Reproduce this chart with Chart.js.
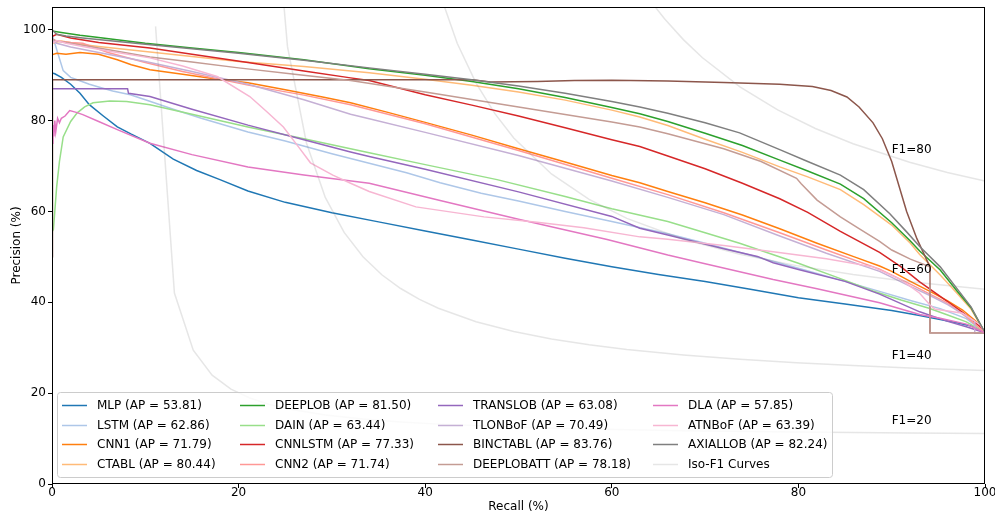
<!DOCTYPE html>
<html>
<head>
<meta charset="utf-8">
<title>Precision-Recall Curves</title>
<script src="https://cdn.jsdelivr.net/npm/chart.js@4.4.1/dist/chart.umd.min.js"></script>
<style>
    html, body { margin: 0; padding: 0; background: #fff; }
    #wrap { width: 995px; height: 515px; }
</style>
</head>
<body>
<div id="wrap"><canvas id="chart-pr" width="995" height="515"></canvas></div>
<script>
/* ---------- models, AP scores ---------- */
var modelNames = ['MLP', 'LSTM', 'CNN1', 'CTABL', 'DEEPLOB', 'DAIN', 'CNNLSTM', 'CNN2',
                  'TRANSLOB', 'TLONBoF', 'BINCTABL', 'DEEPLOBATT', 'DLA', 'ATNBoF', 'AXIALLOB'];
var apScores = [53.81, 62.86, 71.79, 80.44, 81.50, 63.44, 77.33, 71.74,
                63.08, 70.49, 83.76, 78.18, 57.85, 63.39, 82.24];

/* ---------- PR curves (recall %, precision %) ---------- */
var mlpRecall    = [0, 0.3, 1, 2, 3, 4, 5.5, 7, 8.5, 10.5, 13, 15.5, 18, 21, 25, 30, 35, 40, 45, 50, 55, 60, 65, 70, 75, 80, 85, 90, 93, 95.2, 97, 98.5, 100];
var mlpPrecision = [90.5, 90.3, 89.5, 88, 86, 83.5, 81, 78.6, 77, 75, 71.5, 69, 67, 64.5, 62, 59.7, 57.7, 55.7, 53.7, 51.7, 49.7, 47.8, 46.1, 44.6, 42.8, 41, 39.6, 38.2, 37.1, 36.2, 35.5, 34.8, 33.3];

var lstmRecall    = [0, 0.3, 0.6, 1.2, 2, 2.7, 4, 5, 6.5, 8.4, 10, 13, 16, 21, 25, 30, 34, 38, 41.6, 46, 50, 55, 60, 66, 70, 75.9, 80, 85, 88.7, 92, 95.2, 98, 100];
var lstmPrecision = [99, 97, 95, 91, 89.5, 89, 88, 87.4, 86.5, 85.7, 84.6, 82.5, 80.5, 77.5, 75.5, 72.7, 70.6, 68.5, 66.3, 64, 62.3, 60, 57.8, 55.1, 53, 49.8, 47.5, 44.6, 42.4, 40.4, 38.6, 36.4, 33.3];

var cnn1Recall    = [0, 0.5, 1.5, 3, 5, 7, 8.5, 10.5, 14, 17, 21, 25, 29, 32, 36, 40, 45, 50, 55, 60, 63, 66, 70, 74, 78, 82, 86, 88.7, 90, 92, 94.1, 96, 97.6, 99.5, 100];
var cnn1Precision = [94.5, 94.8, 94.6, 95, 94.6, 93.4, 92.3, 91.2, 90.2, 89.3, 88.3, 86.8, 85.2, 83.9, 81.8, 79.6, 76.8, 73.8, 70.9, 67.9, 66.3, 64.4, 61.9, 59.2, 56.2, 53, 50, 48, 46.8, 44.6, 42.4, 40.3, 38.3, 35, 33.3];

var ctablRecall    = [0, 1, 3, 5, 10, 15, 20, 27, 34, 40, 45, 50, 55, 60, 63, 66, 70, 74, 78, 81, 84.5, 87, 90, 92, 93, 95.2, 97, 98.5, 100];
var ctablPrecision = [97, 97.5, 96.8, 96.3, 95.2, 94.1, 93, 91.9, 90.5, 89.1, 87.8, 86.3, 84.5, 82.3, 80.8, 78.9, 75.9, 73, 69.8, 67.6, 64.8, 61.5, 57, 53, 50.5, 46, 42, 38.5, 33.3];

var deeplobRecall    = [0, 1, 3, 5, 10, 15, 20, 27, 34, 40, 45, 50, 55, 60, 63, 66, 70, 74, 78, 81, 84.5, 87, 90, 92, 93, 95.2, 97, 98.5, 100];
var deeplobPrecision = [99.7, 99.4, 98.8, 98.3, 97, 96, 95, 93.4, 91.4, 90, 88.6, 87, 85.1, 82.9, 81.5, 79.8, 77.2, 74.5, 71.3, 68.9, 66, 62.8, 57.5, 53.5, 51.3, 47.1, 42.5, 38.8, 33.3];

var dainRecall    = [0, 0.15, 0.3, 0.5, 0.8, 1.2, 2, 2.7, 3.5, 4.4, 6.2, 8, 10.5, 15, 21, 27, 34, 40, 47.7, 55, 60, 66, 70, 73.7, 80, 84, 88, 91, 94, 96, 98, 100];
var dainPrecision = [55.5, 56, 60, 65.4, 71, 76.4, 79.8, 81.7, 83, 83.9, 84.3, 84.2, 83.5, 81.4, 78.6, 76, 72.9, 70.3, 67, 63.3, 60.6, 57.8, 55.3, 53, 48.6, 45.6, 42.5, 40.5, 38.7, 37.2, 35.7, 33.3];

var cnnlstmRecall    = [0, 0.5, 2, 5, 10.5, 15, 21, 27, 32, 34, 40, 45, 50, 55, 60, 63, 66, 70, 74, 78, 81, 84.5, 88.7, 91, 93, 95.2, 97.6, 99.5, 100];
var cnnlstmPrecision = [98.5, 99, 98.2, 97.2, 96, 94.6, 92.8, 90.9, 89.4, 88.8, 85.7, 83.4, 81, 78.4, 75.8, 74.3, 72.2, 69.4, 66.2, 62.8, 59.8, 55.6, 51, 47.8, 44.5, 41.3, 37.8, 34.6, 33.3];

var cnn2Recall    = [0, 0.5, 2, 3.3, 6, 10, 14, 21, 27, 32, 40, 50, 60, 66, 72, 78, 83, 88.7, 92, 94.1, 96, 98, 100];
var cnn2Precision = [98, 97.5, 97.2, 97, 95, 92.8, 90.8, 87.8, 85.6, 83.5, 79.3, 73.4, 67.3, 63.7, 59.7, 55.3, 51.5, 47.3, 44, 41.8, 39.8, 36.8, 33.3];

var translobRecall    = [0, 8.1, 8.2, 10.5, 15, 21, 27, 32, 34, 40, 50, 60, 63, 66, 72, 75.6, 77.3, 80, 85, 88.7, 93, 96, 98, 100];
var translobPrecision = [87, 87, 86, 85.3, 82.5, 79, 75.8, 73.1, 72.1, 69.3, 64.3, 58.9, 56.3, 54.8, 51.8, 50.1, 48.7, 47.2, 44.6, 41.8, 37.9, 35.8, 34.6, 33.3];

var tlonbofRecall    = [0, 0.5, 2, 5, 10, 15, 21, 27, 32, 34, 40, 50, 60, 66, 72, 78, 83, 88.7, 92, 94.1, 96, 98.9, 98.9, 100];
var tlonbofPrecision = [97.8, 97, 96.2, 95, 93, 90.8, 88, 84.6, 81.4, 80.4, 77.4, 72.3, 66.7, 63.1, 59.3, 54.6, 50.8, 46.8, 43.5, 41.5, 39.5, 35.8, 33.3, 33.3];

var binctablRecall    = [0, 0.05, 45, 47, 52, 56, 60, 66, 72, 78, 81.5, 83.5, 85.2, 86.5, 88, 89, 90, 91.6, 92.7, 94.1, 94.1, 100];
var binctablPrecision = [50, 89, 89, 88.5, 88.6, 88.8, 88.9, 88.7, 88.4, 88, 87.5, 86.6, 85.2, 83, 79.5, 76, 71, 60, 54, 47.8, 33.3, 33.3];

var deeplobattRecall    = [0, 0.5, 2, 5, 10.5, 15, 20, 26, 32, 40, 50, 60, 63, 66, 72, 76, 79.8, 80.3, 82, 84.5, 86.5, 88.7, 90, 92, 94.1, 94.1, 100];
var deeplobattPrecision = [98, 97.5, 97, 96, 94, 92.9, 91.6, 90.2, 88.8, 86.3, 83, 79.7, 78.6, 77.1, 73.8, 71, 67.3, 66.1, 62.5, 58.8, 56.2, 53.4, 51.5, 49.5, 47.8, 33.3, 33.3];

var dlaRecall    = [0, 0.1, 0.2, 0.3, 0.4, 0.6, 0.8, 1, 1.4, 1.9, 2.6, 3.3, 5, 7, 10.5, 15, 21, 27, 34, 41.6, 50, 59.5, 66, 70, 77.3, 82, 88.7, 93, 95.2, 98, 100];
var dlaPrecision = [75, 79, 76.5, 80, 77.5, 80.5, 79.5, 80.5, 81, 82.2, 81.8, 81.3, 79.8, 78, 75, 72.5, 69.8, 68, 66.2, 62.4, 58.3, 53.8, 50.4, 48.5, 45, 43, 39.9, 37.3, 36.5, 35.2, 33.3];

var atnbofRecall    = [0, 0.5, 1.5, 3.3, 6, 10.5, 14, 17.7, 21.2, 23, 24.8, 26.5, 27.7, 30.1, 32, 34, 39, 46.3, 52, 57, 63, 66, 72, 77.3, 83, 88, 91, 93, 94.1, 94.6, 97.6, 99.5, 100];
var atnbofPrecision = [97, 97.6, 97, 96.3, 95.3, 93.8, 92, 89.7, 85.3, 82, 78.6, 74, 70.7, 68, 66.2, 64.4, 61, 58.8, 57.6, 56.4, 54.4, 53.9, 52.5, 51.1, 49.6, 47.8, 45, 42, 39.4, 38.5, 37.6, 35, 33.3];

var axiallobRecall    = [0, 0.5, 1.5, 3.3, 6, 10, 15, 20, 27, 34, 40, 45, 50, 55, 60, 63, 66, 70, 73.7, 78, 81, 84.5, 87, 89.8, 91.6, 93, 95.2, 97, 98.5, 100];
var axiallobPrecision = [100, 99, 98.6, 98.2, 97.6, 96.8, 95.8, 94.8, 93.3, 91.6, 90.2, 89, 87.6, 86, 84.2, 83, 81.6, 79.5, 77.3, 73.6, 71, 68, 64.8, 59.5, 55.5, 52.3, 47.8, 43, 39, 33.3];

/* ---------- iso-F1 reference curves ---------- */
var isoScores = [20, 40, 60, 80];
var iso20Recall    = [11.10, 13.12, 15.14, 17.16, 19.18, 21.20, 23.22, 25.24, 29.29, 33.33, 37.37, 41.41, 49.49, 57.57, 67.67, 79.80, 91.92, 100];
var iso20Precision = [100.74, 42.03, 29.44, 23.96, 20.89, 18.93, 17.56, 16.56, 15.19, 14.29, 13.65, 13.18, 12.53, 12.10, 11.73, 11.43, 11.22, 11.11];
var iso40Recall    = [21.20, 23.22, 25.24, 27.27, 29.29, 31.31, 33.33, 35.35, 37.37, 39.39, 41.41, 45.45, 49.49, 53.53, 57.57, 61.61, 67.67, 73.73, 79.80, 85.86, 91.92, 100];
var iso40Precision = [352.2, 144.05, 96.27, 75.06, 63.08, 55.38, 50.02, 46.06, 43.03, 40.63, 38.68, 35.72, 33.56, 31.93, 30.65, 29.61, 28.39, 27.44, 26.69, 26.07, 25.56, 25.0];
var iso60Recall    = [31.31, 33.33, 35.35, 37.37, 39.39, 41.41, 43.43, 45.45, 47.47, 49.49, 53.53, 57.57, 61.61, 67.67, 73.73, 79.80, 85.86, 91.92, 100];
var iso60Precision = [719.1, 300.6, 198.3, 152.2, 125.9, 108.9, 97.02, 88.26, 81.52, 76.18, 68.25, 62.64, 58.47, 53.89, 50.58, 48.07, 46.11, 44.54, 42.86];
var iso80Recall    = [41.41, 43.43, 45.45, 47.47, 49.49, 51.51, 53.53, 55.55, 57.57, 59.59, 61.61, 63.63, 65.65, 67.67, 69.69, 73.73, 77.78, 81.82, 85.86, 91.92, 95.96, 100];
var iso80Precision = [1176, 506.7, 333.6, 254.2, 208.6, 179.0, 158.3, 142.9, 131.1, 121.7, 114.0, 107.7, 102.4, 97.82, 93.88, 87.43, 82.36, 78.26, 74.89, 70.82, 68.59, 66.67];
var isoLabelX = 90;
var isoLabelY = [13.22, 27.56, 46.54, 72.82];

/* ---------- axis ticks ---------- */
var xTicks = [0, 20, 40, 60, 80, 100];
var yTicks = [0, 20, 40, 60, 80, 100];

(function () {
    'use strict';

    var FONT = "'DejaVu Sans', 'Liberation Sans', sans-serif";
    var tab20 = ['#1f77b4', '#aec7e8', '#ff7f0e', '#ffbb78', '#2ca02c', '#98df8a', '#d62728', '#ff9896',
                 '#9467bd', '#c5b0d5', '#8c564b', '#c49c94', '#e377c2', '#f7b6d2', '#7f7f7f'];
    var isoColor = 'rgba(128,128,128,0.2)';

    var curves = [
        [mlpRecall, mlpPrecision], [lstmRecall, lstmPrecision], [cnn1Recall, cnn1Precision],
        [ctablRecall, ctablPrecision], [deeplobRecall, deeplobPrecision], [dainRecall, dainPrecision],
        [cnnlstmRecall, cnnlstmPrecision], [cnn2Recall, cnn2Precision], [translobRecall, translobPrecision],
        [tlonbofRecall, tlonbofPrecision], [binctablRecall, binctablPrecision],
        [deeplobattRecall, deeplobattPrecision], [dlaRecall, dlaPrecision],
        [atnbofRecall, atnbofPrecision], [axiallobRecall, axiallobPrecision]
    ];
    var isoCurves = [
        [iso20Recall, iso20Precision], [iso40Recall, iso40Precision],
        [iso60Recall, iso60Precision], [iso80Recall, iso80Precision]
    ];

    function toPoints(pair) {
        return pair[0].map(function (r, i) { return { x: r, y: pair[1][i] }; });
    }

    var datasets = [];
    curves.forEach(function (c, i) {
        datasets.push({
            label: modelNames[i] + ' (AP = ' + apScores[i].toFixed(2) + ')',
            data: toPoints(c),
            borderColor: tab20[i],
            borderWidth: 1.5,
            pointRadius: 0,
            tension: 0,
            fill: false,
            order: 100 - i
        });
    });
    isoCurves.forEach(function (c, i) {
        datasets.push({
            label: i === isoCurves.length - 1 ? 'Iso-F1 Curves' : '',
            data: toPoints(c),
            borderColor: isoColor,
            borderWidth: 1.5,
            pointRadius: 0,
            tension: 0,
            fill: false,
            order: 50 - i
        });
    });

    /* axes frame on all four sides */
    var framePlugin = {
        id: 'frame',
        afterDatasetsDraw: function (chart) {
            var a = chart.chartArea, ctx = chart.ctx;
            ctx.save();
            ctx.strokeStyle = '#000';
            ctx.lineWidth = 1;
            ctx.strokeRect(Math.round(a.left) + 0.5, Math.round(a.top) + 0.5,
                           Math.round(a.right - a.left) - 1, Math.round(a.bottom - a.top) - 1);
            ctx.restore();
        }
    };

    /* "F1=xx" annotations */
    var isoLabelPlugin = {
        id: 'isoLabels',
        afterDatasetsDraw: function (chart) {
            var ctx = chart.ctx, xs = chart.scales.x, ys = chart.scales.y;
            ctx.save();
            ctx.font = '12px ' + FONT;
            ctx.fillStyle = '#000';
            ctx.textAlign = 'left';
            ctx.textBaseline = 'alphabetic';
            isoScores.forEach(function (f, i) {
                ctx.fillText('F1=' + f, xs.getPixelForValue(isoLabelX), ys.getPixelForValue(isoLabelY[i]));
            });
            ctx.restore();
        }
    };

    /* column-major legend box in the lower left */
    var legendPlugin = {
        id: 'boxLegend',
        afterDraw: function (chart) {
            var ctx = chart.ctx;
            var items = chart.data.datasets.filter(function (d) { return d.label; });
            var colX = [62, 240, 438, 653];
            var rowY = 405, rowH = 19.6, rows = 4;
            var bx = 57.5, by = 392.5, bw = 775, bh = 85, r = 3;

            ctx.save();
            ctx.beginPath();
            ctx.moveTo(bx + r, by);
            ctx.lineTo(bx + bw - r, by);
            ctx.arcTo(bx + bw, by, bx + bw, by + r, r);
            ctx.lineTo(bx + bw, by + bh - r);
            ctx.arcTo(bx + bw, by + bh, bx + bw - r, by + bh, r);
            ctx.lineTo(bx + r, by + bh);
            ctx.arcTo(bx, by + bh, bx, by + bh - r, r);
            ctx.lineTo(bx, by + r);
            ctx.arcTo(bx, by, bx + r, by, r);
            ctx.closePath();
            ctx.fillStyle = 'rgba(255,255,255,0.8)';
            ctx.fill();
            ctx.strokeStyle = '#cccccc';
            ctx.lineWidth = 1;
            ctx.stroke();

            ctx.font = '12px ' + FONT;
            ctx.textBaseline = 'middle';
            ctx.textAlign = 'left';
            items.forEach(function (d, i) {
                var x = colX[Math.floor(i / rows)];
                var y = Math.round(rowY + (i % rows) * rowH) + 0.5;
                ctx.strokeStyle = d.borderColor;
                ctx.lineWidth = 1.5;
                ctx.beginPath();
                ctx.moveTo(x, y);
                ctx.lineTo(x + 25, y);
                ctx.stroke();
                ctx.fillStyle = '#000';
                ctx.fillText(d.label, x + 35, y);
            });
            ctx.restore();
        }
    };

    new Chart(document.getElementById('chart-pr'), {
        type: 'line',
        data: { datasets: datasets },
        plugins: [framePlugin, isoLabelPlugin, legendPlugin],
        options: {
            responsive: false,
            animation: false,
            devicePixelRatio: 1,
            layout: { padding: { left: 0, top: 7, right: 10, bottom: 0 } },
            plugins: {
                legend: { display: false },
                tooltip: { enabled: false }
            },
            scales: {
                x: {
                    type: 'linear',
                    min: 0,
                    max: 100,
                    afterBuildTicks: function (s) { s.ticks = xTicks.map(function (v) { return { value: v }; }); },
                    afterFit: function (s) { s.height = 31; s.paddingLeft = 0; s.paddingRight = 0; },
                    border: { display: false },
                    grid: { drawOnChartArea: false, drawTicks: true, tickLength: 4, color: '#000', lineWidth: 1 },
                    ticks: { color: '#000', font: { family: FONT, size: 12 }, padding: -2, maxRotation: 0 },
                    title: { display: true, text: 'Recall (%)', color: '#000',
                             font: { family: FONT, size: 12 }, padding: { top: 0, bottom: 1 } }
                },
                y: {
                    type: 'linear',
                    min: 0,
                    max: 105,
                    afterBuildTicks: function (s) { s.ticks = yTicks.map(function (v) { return { value: v }; }); },
                    afterFit: function (s) { s.width = 52; s.paddingTop = 0; s.paddingBottom = 0; },
                    border: { display: false },
                    grid: { drawOnChartArea: false, drawTicks: true, tickLength: 4, color: '#000', lineWidth: 1 },
                    ticks: { color: '#000', font: { family: FONT, size: 12 }, padding: 2 },
                    title: { display: true, text: 'Precision (%)', color: '#000',
                             font: { family: FONT, size: 12 }, padding: { top: 9.5, bottom: 0 } }
                }
            }
        }
    });
})();
</script>
</body>
</html>
